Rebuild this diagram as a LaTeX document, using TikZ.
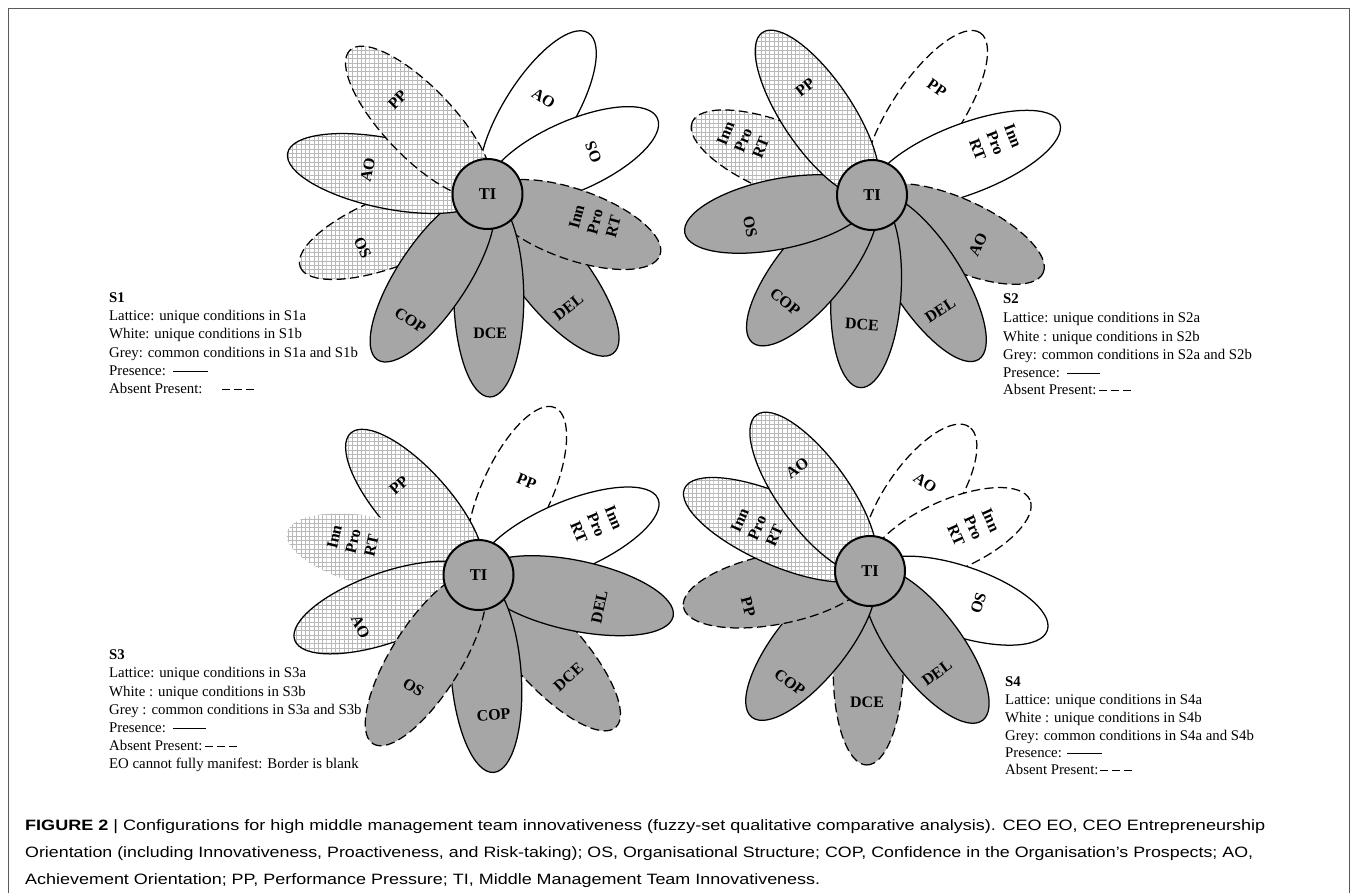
\documentclass[tikz,border=0pt]{standalone}
\usepackage{fontspec}
\setmainfont{Liberation Serif}
\newfontfamily\capfont{Liberation Sans}
\usetikzlibrary{shapes.geometric,patterns.meta}
\definecolor{petalgrey}{RGB}{166,166,166}
\definecolor{latline}{RGB}{185,185,185}
\definecolor{framecol}{RGB}{90,90,90}
\tikzdeclarepattern{
  name=lattice,
  type=colored,
  bottom left={(-0.5pt,-0.5pt)},
  top right={(4.8pt,4.8pt)},
  tile size={(4.3pt,4.3pt)},
  code={
    \draw[latline, line width=0.7pt] (-0.5pt,0pt) -- (4.8pt,0pt) (0pt,-0.5pt) -- (0pt,4.8pt);
  }
}
\tikzset{
  petal/.style={ellipse, inner sep=0pt, minimum width=#1, minimum height=70pt, line width=1.25pt},
  lat/.style={preaction={fill=white}, pattern=lattice},
  wht/.style={fill=white},
  gry/.style={fill=petalgrey},
  sol/.style={draw=black},
  dsh/.style={draw=black, dash pattern=on 9pt off 4.5pt},
  nob/.style={draw=none},
  plabel/.style={font=\bfseries\fontsize{16}{19}\selectfont, inner sep=0pt, align=center},
  tinode/.style={circle, draw, line width=2pt, fill=petalgrey, minimum size=70pt, inner sep=0pt, font=\bfseries\fontsize{16.5}{17}\selectfont},
  legtext/.style={anchor=base west, inner sep=0pt, font=\fontsize{14.8}{18}\selectfont},
  legline/.style={line width=1pt},
  legdash/.style={line width=1pt, dash pattern=on 8pt off 4pt},
  caption/.style={anchor=base west, inner sep=0pt, font=\capfont\fontsize{15}{18}\selectfont},
}
\newcommand{\petal}[4]{\node[petal=#3pt, rotate=#2, #4] (#1) at (#2:0.5*#3) {};}
\newcommand{\plab}[5]{\node[plabel, rotate=#4] (#1) at (#2:#3) {#5};}

\begin{document}
\begin{tikzpicture}[x=1pt,y=1pt]
\useasboundingbox (0,0) rectangle (1357,-893);
\draw[framecol, line width=0.8pt] (8,-900) -- (8,-8) -- (1349,-8) -- (1349,-900);

% ---------------- S1 ----------------
\begin{scope}[shift={(487.5,-194)}]
\petal{a1}{58}{190}{wht,sol}
\petal{b1}{24}{186}{wht,sol}
\petal{c1}{-51.7}{203}{gry,sol}
\petal{d1}{-19.5}{183}{gry,dsh}
\petal{e1}{-89.3}{203}{gry,sol}
\petal{f1}{201.3}{201}{lat,dsh}
\petal{g1}{-123.6}{199}{gry,sol}
\petal{h1}{168.4}{204}{lat,sol}
\petal{i1}{133.7}{199}{lat,dsh}
\node[tinode] (ti1) at (0,0) {TI};
\plab{la1}{59.7}{111}{-32}{AO}
\plab{lb1}{21.6}{114}{111}{OS}
\plab{lc1}{-54.4}{139}{38}{DEL}
\plab{ld1}{-14.5}{111}{75}{Inn\\Pro\\RT}
\plab{le1}{-88.9}{139}{0}{DCE}
\plab{lf1}{203.4}{136}{-65}{OS}
\plab{lg1}{-121.4}{148}{-34}{COP}
\plab{lh1}{168.7}{122}{78}{AO}
\plab{li1}{133.8}{130}{45}{PP}
\end{scope}

% ---------------- S2 ----------------
\begin{scope}[shift={(872,-195)}]
\petal{a2}{56.3}{195}{wht,dsh}
\petal{b2}{21}{201}{wht,sol}
\petal{c2}{-24.5}{188}{gry,dsh}
\petal{d2}{-57}{196}{gry,sol}
\petal{e2}{-93.5}{193}{gry,sol}
\petal{f2}{-129}{190}{gry,sol}
\petal{g2}{158}{194}{lat,dsh}
\petal{h2}{191.5}{191}{gry,sol}
\petal{i2}{124}{196}{lat,sol}
\node[tinode] (ti2) at (0,0) {TI};
\plab{la2}{58.7}{125}{-35}{PP}
\plab{lb2}{23}{134}{-69}{Inn\\Pro\\RT}
\plab{lc2}{-25}{117}{65}{AO}
\plab{ld2}{-59.4}{134}{33}{DEL}
\plab{le2}{-94.4}{130}{-3}{DCE}
\plab{lf2}{-129}{138}{-39}{COP}
\plab{lg2}{157}{140}{68}{Inn\\Pro\\RT}
\plab{lh2}{194.7}{126}{-78}{OS}
\plab{li2}{121.8}{127}{38}{PP}
\end{scope}

% ---------------- S3 ----------------
\begin{scope}[shift={(478.5,-575)}]
\petal{a3}{65.4}{184}{wht,dsh}
\petal{b3}{23}{195}{wht,sol}
\petal{c3}{132}{191}{lat,sol}
\petal{d3}{167.5}{196}{lat,nob}
\petal{e3}{199.5}{195}{lat,sol}
\petal{f3}{-48}{205}{gry,dsh}
\petal{g3}{-12}{199}{gry,sol}
\petal{h3}{-85.6}{198}{gry,sol}
\petal{i3}{-122}{199}{gry,dsh}
\node[tinode] (ti3) at (0,0) {TI};
\plab{la3}{62.7}{105}{-22}{PP}
\plab{lb3}{23}{128}{-67}{Inn\\Pro\\RT}
\plab{lc3}{131.6}{120}{42}{PP}
\plab{ld3}{165}{130}{77}{Inn\\Pro\\RT}
\plab{le3}{203.8}{129}{-65}{AO}
\plab{lf3}{-48.6}{136}{42}{DCE}
\plab{lg3}{-14.8}{125}{78}{DEL}
\plab{lh3}{-83.9}{141}{4}{COP}
\plab{li3}{-120}{130}{-32}{OS}
\end{scope}

% ---------------- S4 ----------------
\begin{scope}[shift={(870,-571)}]
\petal{a4}{55.5}{175}{wht,dsh}
\petal{b4}{24}{175}{wht,dsh}
\petal{c4}{-18.5}{187}{wht,sol}
\petal{d4}{-91}{194}{gry,dsh}
\petal{e4}{-53}{187}{gry,sol}
\petal{f4}{-129}{188}{gry,sol}
\petal{g4}{191}{190}{gry,dsh}
\petal{h4}{156}{203}{lat,sol}
\petal{i4}{126}{193}{lat,sol}
\node[tinode] (ti4) at (0,0) {TI};
\plab{la4}{58}{104}{-35}{AO}
\plab{lb4}{22.7}{112}{-66}{Inn\\Pro\\RT}
\plab{lc4}{-16.5}{113}{72}{OS}
\plab{ld4}{-91.3}{131}{0}{DCE}
\plab{le4}{-56.7}{122}{36}{DEL}
\plab{lf4}{-125.8}{137}{-37}{COP}
\plab{lg4}{196.4}{127}{-75}{PP}
\plab{lh4}{159}{121}{66}{Inn\\Pro\\RT}
\plab{li4}{125.3}{126}{36}{AO}
\end{scope}

% ---------------- legends ----------------
\node[legtext] (s1t) at (109,-302) {\textbf{S1}};
\node[legtext] (s1a) at (109,-320) {Lattice: unique conditions in S1a};
\node[legtext] (s1b) at (109,-338) {White: unique conditions in S1b};
\node[legtext] (s1c) at (109,-357) {Grey: common conditions in S1a and S1b};
\node[legtext] (s1d) at (109,-375) {Presence:};
\node[legtext] (s1e) at (109,-393) {Absent Present:};
\coordinate (s1p0) at (173,-371); \coordinate (s1p1) at (208,-371);
\coordinate (s1q0) at (222,-389); \coordinate (s1q1) at (254,-389);
\draw[legline] (s1p0) -- (s1p1);
\draw[legdash] (s1q0) -- (s1q1);

\node[legtext] (s2t) at (1003,-304) {\textbf{S2}};
\node[legtext] (s2a) at (1003,-322) {Lattice: unique conditions in S2a};
\node[legtext] (s2b) at (1003,-341) {White : unique conditions in S2b};
\node[legtext] (s2c) at (1003,-359) {Grey: common conditions in S2a and S2b};
\node[legtext] (s2d) at (1003,-377) {Presence:};
\node[legtext] (s2e) at (1003,-394) {Absent Present:};
\coordinate (s2p0) at (1067,-373); \coordinate (s2p1) at (1100,-373);
\coordinate (s2q0) at (1099,-390); \coordinate (s2q1) at (1131,-390);
\draw[legline] (s2p0) -- (s2p1);
\draw[legdash] (s2q0) -- (s2q1);

\node[legtext] (s3t) at (109,-659) {\textbf{S3}};
\node[legtext] (s3a) at (109,-677) {Lattice: unique conditions in S3a};
\node[legtext] (s3b) at (109,-696) {White : unique conditions in S3b};
\node[legtext] (s3c) at (109,-714) {Grey : common conditions in S3a and S3b};
\node[legtext] (s3d) at (109,-732) {Presence:};
\node[legtext] (s3e) at (109,-750) {Absent Present:};
\node[legtext] (s3f) at (109,-768) {EO cannot fully manifest: Border is blank};
\coordinate (s3p0) at (173,-728); \coordinate (s3p1) at (206,-728);
\coordinate (s3q0) at (205,-746); \coordinate (s3q1) at (237,-746);
\draw[legline] (s3p0) -- (s3p1);
\draw[legdash] (s3q0) -- (s3q1);

\node[legtext] (s4t) at (1005,-686) {\textbf{S4}};
\node[legtext] (s4a) at (1005,-704) {Lattice: unique conditions in S4a};
\node[legtext] (s4b) at (1005,-722) {White : unique conditions in S4b};
\node[legtext] (s4c) at (1005,-740) {Grey: common conditions in S4a and S4b};
\node[legtext] (s4d) at (1005,-757) {Presence:};
\node[legtext] (s4e) at (1005,-774) {Absent Present:};
\coordinate (s4p0) at (1067,-753); \coordinate (s4p1) at (1102,-753);
\coordinate (s4q0) at (1100,-770); \coordinate (s4q1) at (1132,-770);
\draw[legline] (s4p0) -- (s4p1);
\draw[legdash] (s4q0) -- (s4q1);

% ---------------- caption ----------------
\node[caption] (cap1) at (25,-830) {\resizebox{1240pt}{\height}{\textbf{FIGURE 2} | Configurations for high middle management team innovativeness (fuzzy-set qualitative comparative analysis). CEO EO, CEO Entrepreneurship}};
\node[caption] (cap2) at (25,-857) {\resizebox{1228pt}{\height}{Orientation (including Innovativeness, Proactiveness, and Risk-taking); OS, Organisational Structure; COP, Confidence in the Organisation’s Prospects; AO,}};
\node[caption] (cap3) at (25,-884) {\resizebox{795pt}{\height}{Achievement Orientation; PP, Performance Pressure; TI, Middle Management Team Innovativeness.}};
\end{tikzpicture}
\end{document}
